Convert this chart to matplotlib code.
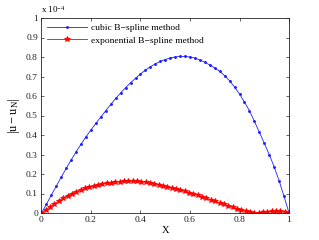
import numpy as np
import matplotlib
matplotlib.use("Agg")
import matplotlib.pyplot as plt

plt.rcParams["font.family"] = "Liberation Serif"
plt.rcParams["mathtext.fontset"] = "custom"
plt.rcParams["mathtext.rm"] = "Liberation Serif"
plt.rcParams["mathtext.it"] = "Liberation Serif"

# erreur absolue (en unités de 1e-4)
x_cubic = np.linspace(0, 1, 51)
err_cubic = [0.000, 0.045, 0.092, 0.138, 0.184, 0.229, 0.272, 0.314, 0.353, 0.391,
             0.426, 0.460, 0.493, 0.525, 0.557, 0.588, 0.616, 0.643, 0.668, 0.691,
             0.713, 0.733, 0.750, 0.765, 0.777, 0.787, 0.795, 0.800, 0.803, 0.803,
             0.800, 0.794, 0.785, 0.773, 0.759, 0.744, 0.727, 0.704, 0.678, 0.646,
             0.610, 0.569, 0.525, 0.470, 0.415, 0.358, 0.300, 0.237, 0.165, 0.085,
             0.000]

x_exp = np.linspace(0, 1, 58)
err_exp = [0.000, 0.016, 0.032, 0.047, 0.062, 0.076, 0.089, 0.100, 0.110, 0.119,
           0.126, 0.133, 0.139, 0.144, 0.149, 0.153, 0.156, 0.159, 0.161, 0.162,
           0.163, 0.163, 0.162, 0.161, 0.158, 0.155, 0.151, 0.146, 0.140, 0.134,
           0.128, 0.122, 0.117, 0.111, 0.105, 0.099, 0.091, 0.083, 0.075, 0.068,
           0.060, 0.052, 0.045, 0.037, 0.029, 0.021, 0.015, 0.009, 0.005, 0.002,
           0.000, 0.004, 0.007, 0.009, 0.009, 0.009, 0.007, 0.000]

fig = plt.figure(figsize=(3.19, 2.4), dpi=100)
ax = fig.add_axes([0.130, 0.1125, 0.776, 0.8125])

ax.plot(x_cubic, err_cubic, "-", color="#2020ff", lw=0.6, marker=".", ms=2.2,
        label="cubic B\u2212spline method")
ax.plot(x_exp, err_exp, "-", color="#ff0000", lw=0.6, marker="*", ms=4,
        mew=0.6, label="exponential B\u2212spline method")

ax.set_xlim(0, 1)
ax.set_ylim(0, 1)
ax.set_xticks(np.arange(0, 1.01, 0.2))
ax.set_xticklabels(["0", "0.2", "0.4", "0.6", "0.8", "1"])
ax.set_yticks(np.arange(0, 1.01, 0.1))
ax.set_yticklabels(["0", "0.1", "0.2", "0.3", "0.4", "0.5", "0.6", "0.7", "0.8", "0.9", "1"])
ax.tick_params(direction="in", top=True, right=True, labelsize=6.8, length=2.5,
               width=0.5, pad=2.5, colors="#222222")
for s in ax.spines.values():
    s.set_linewidth(0.6)
    s.set_color("#222222")

ax.set_xlabel("X", fontsize=7.5, labelpad=1)
ax.set_ylabel(r"$\mathrm{|u-u_N|}$", fontsize=9, labelpad=3)
ax.text(0.0, 1.015, r"x 10$^{-4}$", transform=ax.transAxes, fontsize=6.5,
        ha="left", va="bottom")

ax.legend(loc="upper left", fontsize=6.8, frameon=False, handlelength=4.2,
          borderaxespad=0.2, handletextpad=0.4, labelspacing=0.4)

fig.savefig("out.png", dpi=100)
plt.close()
